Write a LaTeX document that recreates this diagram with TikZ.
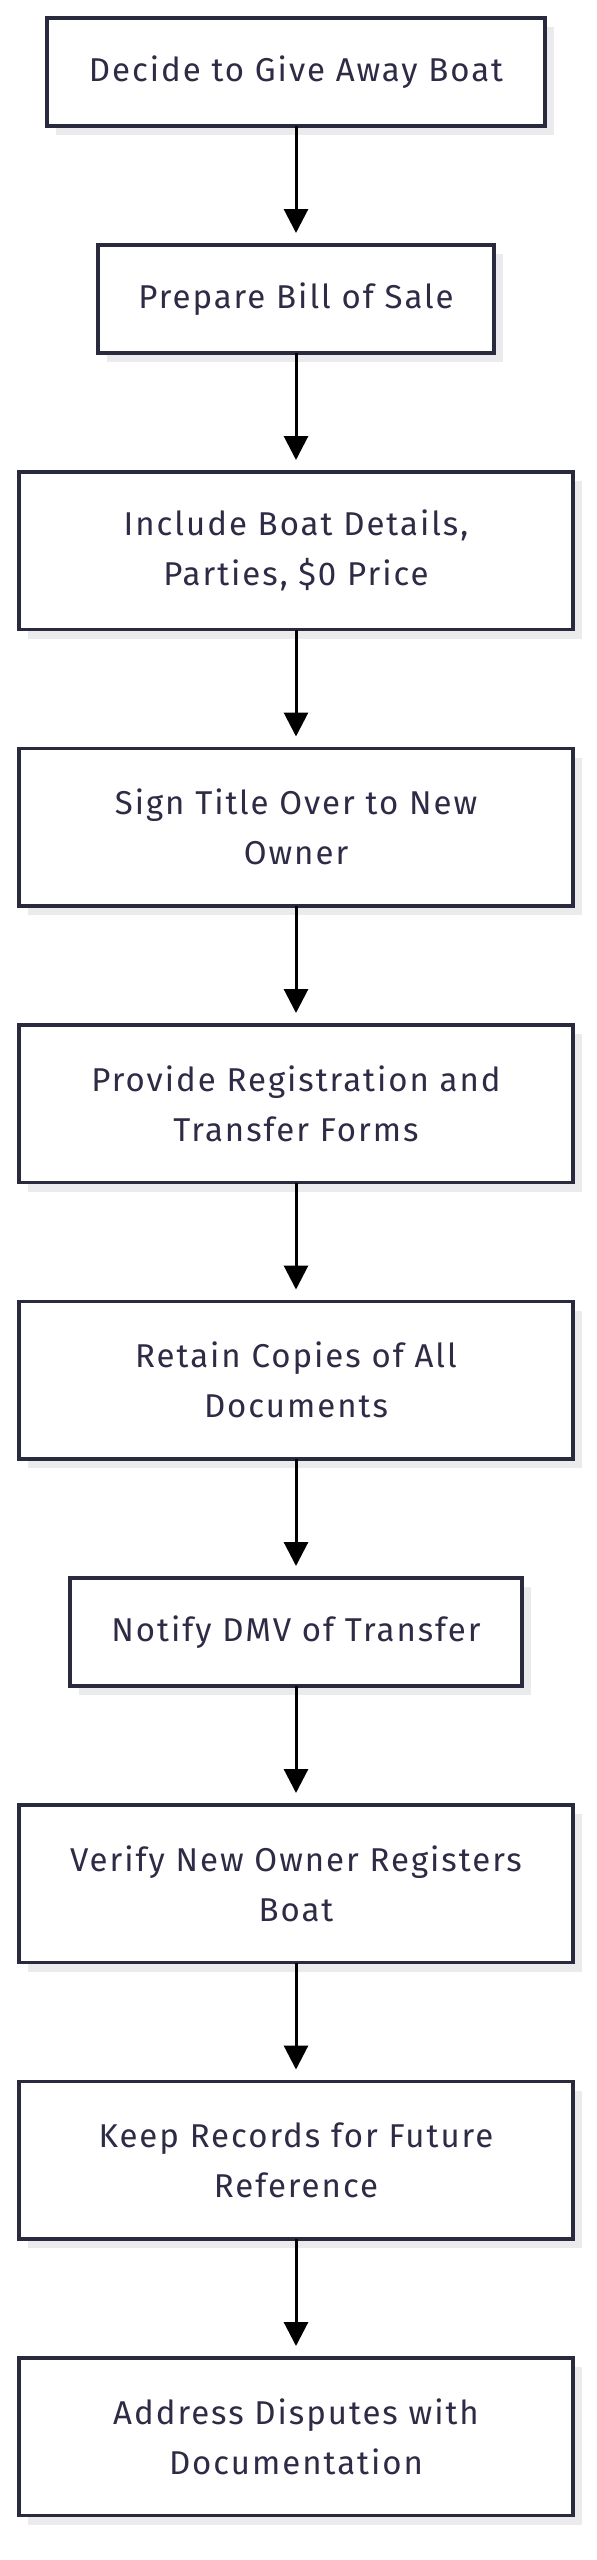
\documentclass[tikz,border=0pt]{standalone}
\usepackage{fontspec}
\setmainfont[LetterSpace=6]{Fira Sans}
\usetikzlibrary{positioning,arrows.meta,shadows}
\definecolor{boxborder}{HTML}{2A2A3E}
\definecolor{boxtext}{HTML}{2D2B45}
\definecolor{shadowgray}{HTML}{EBEBEE}
\begin{document}
\begin{tikzpicture}[x=1pt,y=1pt,
  stepbox/.style={draw=boxborder, line width=3.5pt, fill=white, rectangle,
    text=boxtext, align=center, font=\fontsize{33}{50}\selectfont,
    inner sep=0pt, outer sep=0pt,
    drop shadow={shadow xshift=9pt, shadow yshift=-9pt, fill=shadowgray, opacity=1}},
  oneline/.style={stepbox, minimum height=108pt},
  twoline/.style={stepbox, minimum height=157.5pt},
  flow/.style={line width=3pt, black, -{Triangle[width=24pt,length=24pt]}, shorten >=12pt}
]
\useasboundingbox (0,0) rectangle (597,-2560);
\node[oneline, minimum width=498pt, anchor=north] (n1) at (296,-18) {Decide to Give Away Boat};
\node[oneline, minimum width=396pt, below=119pt of n1] (n2) {Prepare Bill of Sale};
\node[twoline, minimum width=554pt, below=119pt of n2] (n3) {Include Boat Details,\\Parties, \$0 Price};
\node[twoline, minimum width=554pt, below=119pt of n3] (n4) {Sign Title Over to New\\Owner};
\node[twoline, minimum width=554pt, below=119pt of n4] (n5) {Provide Registration and\\Transfer Forms};
\node[twoline, minimum width=554pt, below=119pt of n5] (n6) {Retain Copies of All\\Documents};
\node[oneline, minimum width=452pt, below=119pt of n6] (n7) {Notify DMV of Transfer};
\node[twoline, minimum width=554pt, below=119pt of n7] (n8) {Verify New Owner Registers\\Boat};
\node[twoline, minimum width=554pt, below=119pt of n8] (n9) {Keep Records for Future\\Reference};
\node[twoline, minimum width=554pt, below=119pt of n9] (n10) {Address Disputes with\\Documentation};
\foreach \a/\b in {n1/n2,n2/n3,n3/n4,n4/n5,n5/n6,n6/n7,n7/n8,n8/n9,n9/n10}
  \draw[flow] (\a.south) -- (\b.north);
\end{tikzpicture}
\end{document}
